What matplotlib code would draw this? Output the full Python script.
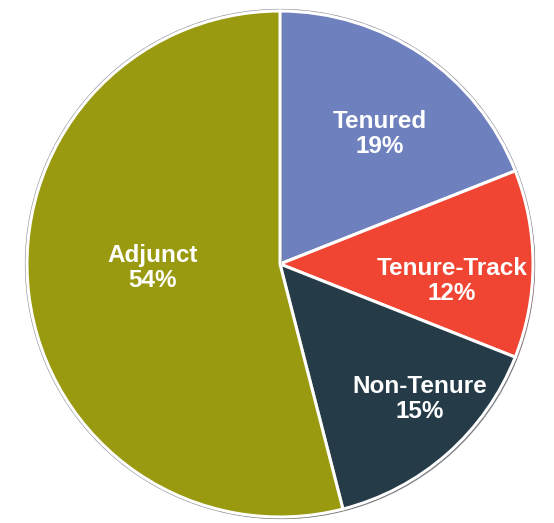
import matplotlib.pyplot as plt
import matplotlib.patheffects as pe

# faculty appointment mix
categories = ['Tenured', 'Tenure-Track', 'Non-Tenure', 'Adjunct']
shares = [19, 12, 15, 54]
colors = ['#6e80bd', '#f04532', '#253b48', '#999a10']
explode = [0, 0.025, 0, 0]

# label anchor points (pixels from top-left)
label_xy = [(380, 134), (452, 281), (420, 399), (153, 268)]

fig = plt.figure(figsize=(5.54, 5.23), dpi=100)
ax = fig.add_axes([0, 0, 1, 1])

cx, cy, r = 280, 523 - 264, 253
wedges, _ = ax.pie(shares, colors=colors, explode=explode, startangle=90,
                   counterclock=False, center=(cx, cy), radius=r,
                   wedgeprops=dict(edgecolor='white', linewidth=2.2))
for w in wedges:
    w.set_path_effects([pe.SimplePatchShadow(offset=(1.5, -1.5), alpha=0.4),
                        pe.Normal()])
ax.add_patch(plt.Circle((cx, cy), r + 1, fill=False, edgecolor='#9090a0',
                        linewidth=1.6, zorder=0.5))

for name, pct, (x, y) in zip(categories, shares, label_xy):
    ax.text(x, 523 - y, f'{name}\n{pct}%', color='white', fontsize=17.5,
            fontweight='bold', family='Liberation Sans', ha='center',
            va='center', linespacing=1.1)

ax.set_xlim(0, 554)
ax.set_ylim(0, 523)
ax.set_aspect('equal')
ax.axis('off')
fig.savefig('out.png', dpi=100)
